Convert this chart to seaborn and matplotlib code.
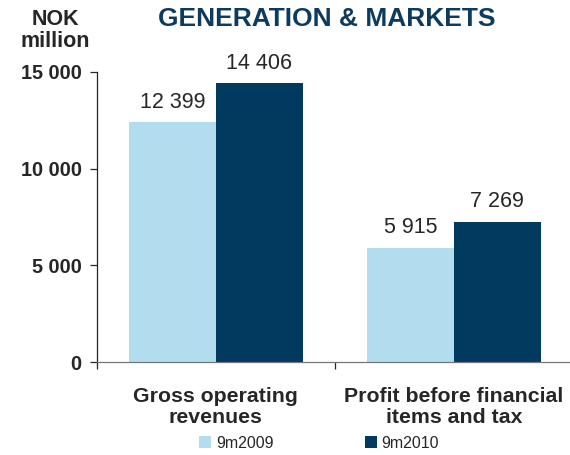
import matplotlib
matplotlib.use("Agg")
import matplotlib.pyplot as plt
import pandas as pd
import seaborn as sns

# data
categories = ["Gross operating\nrevenues", "Profit before financial\nitems and tax"]
periods = ["9m2009", "9m2010"]
values_2009 = [12399, 5915]
values_2010 = [14406, 7269]
yticks = [0, 5000, 10000, 15000]

light = "#B1DDEE"
dark = "#003A5E"

df = pd.DataFrame({
    "category": categories * 2,
    "period": [periods[0]] * 2 + [periods[1]] * 2,
    "value": values_2009 + values_2010,
})

sns.set_style("white")
plt.rcParams["font.family"] = ["Liberation Sans", "DejaVu Sans"]

fig = plt.figure(figsize=(5.7, 4.55), dpi=100)
ax = fig.add_axes([0.170, 0.204, 0.835, 0.638])

sns.barplot(data=df, x="category", y="value", hue="period",
            palette=[light, dark], width=0.73, saturation=1,
            linewidth=0, ax=ax)

def fmt(v):
    return f"{int(round(v)):,}".replace(",", " ")

for cont in ax.containers:
    ax.bar_label(cont, labels=[fmt(v) for v in cont.datavalues],
                 padding=7, fontsize=15.5)

ax.set_ylim(0, 15000)
ax.set_xlim(-0.5, 1.5)
ax.set_yticks(yticks)
ax.set_yticklabels([fmt(t) for t in yticks], fontsize=14.3, fontweight="bold")
ax.tick_params(axis="y", length=5, width=0.9, direction="out", pad=6, left=True)

ax.set_xticks([0, 1])
ax.set_xticklabels(categories, fontsize=15.3, fontweight="bold", linespacing=1.1)
ax.set_xticks([-0.5, 0.5, 1.5], minor=True)
ax.tick_params(axis="x", which="major", length=0, pad=18)
ax.tick_params(axis="x", which="minor", length=5, width=0.9, direction="out", bottom=True)
ax.set_xlabel("")
ax.set_ylabel("")

for s in ["top", "right"]:
    ax.spines[s].set_visible(False)
ax.spines["left"].set_color("#222222")
ax.spines["bottom"].set_color("#777777")
ax.spines["left"].set_linewidth(0.9)
ax.spines["bottom"].set_linewidth(0.9)

handles, labels = ax.get_legend_handles_labels()
ax.get_legend().remove()
fig.legend(handles, labels, loc="center", bbox_to_anchor=(0.560, 0.026),
           ncol=2, frameon=False, fontsize=11.5, handlelength=0.75,
           handleheight=0.75, handletextpad=0.3, columnspacing=5.7)

fig.text(0.097, 0.958, "NOK", fontsize=15.5, fontweight="bold", ha="center", va="center")
fig.text(0.097, 0.908, "million", fontsize=15.5, fontweight="bold", ha="center", va="center")
fig.text(0.574, 0.958, "GENERATION & MARKETS", fontsize=19, fontweight="bold",
         color="#0D3B60", ha="center", va="center")

fig.savefig("out.png", dpi=100)
